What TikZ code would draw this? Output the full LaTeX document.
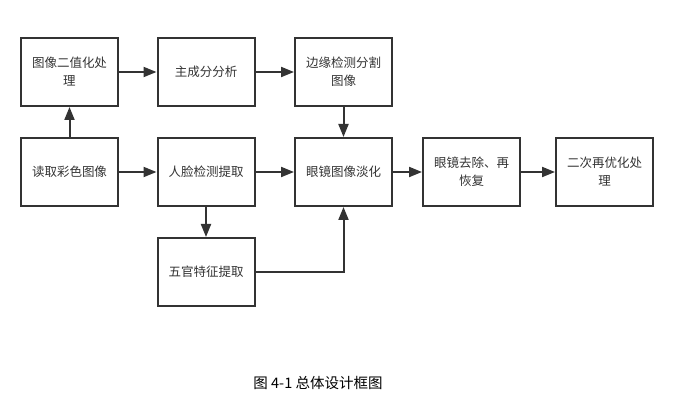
\documentclass[tikz,border=0pt]{standalone}
\usepackage{fontspec}
\newfontfamily\cjk{Noto Sans CJK SC}
\usetikzlibrary{arrows.meta}
\definecolor{boxline}{HTML}{333333}
\definecolor{txt}{HTML}{333333}
\tikzset{
  blk/.style={draw=boxline, line width=2pt, minimum width=97pt, minimum height=68pt,
    inner sep=0pt, align=center, font=\cjk\fontsize{12.5}{18}\selectfont, text=txt},
  conn/.style={draw=boxline, line width=2pt, -{Triangle[length=13pt,width=10pt]}},
  captext/.style={font=\cjk\fontsize{14.5}{16}\selectfont, text=black}
}
\begin{document}
\begin{tikzpicture}[x=1pt,y=-1pt]
\useasboundingbox (0,0) rectangle (681,403);
\node[blk] (A) at (69.5,72) {图像二值化处\\理};
\node[blk] (B) at (206,72) {主成分分析};
\node[blk] (C) at (343.5,72) {边缘检测分割\\图像};
\node[blk] (D) at (69.5,172) {读取彩色图像};
\node[blk] (E) at (206,172) {人脸检测提取};
\node[blk] (F) at (343.5,172) {眼镜图像淡化};
\node[blk] (G) at (471.5,172) {眼镜去除、再\\恢复};
\node[blk] (H) at (604.5,172) {二次再优化处\\理};
\node[blk] (I) at (206,272) {五官特征提取};
\node[captext] (cap) at (318,383) {图 4-1 总体设计框图};
\draw[conn] (D) -- (A);
\draw[conn] (A) -- (B);
\draw[conn] (B) -- (C);
\draw[conn] (C) -- (F);
\draw[conn] (D) -- (E);
\draw[conn] (E) -- (F);
\draw[conn] (F) -- (G);
\draw[conn] (G) -- (H);
\draw[conn] (E) -- (I);
\draw[conn] (I.east) -| (F.south);
\end{tikzpicture}
\end{document}
